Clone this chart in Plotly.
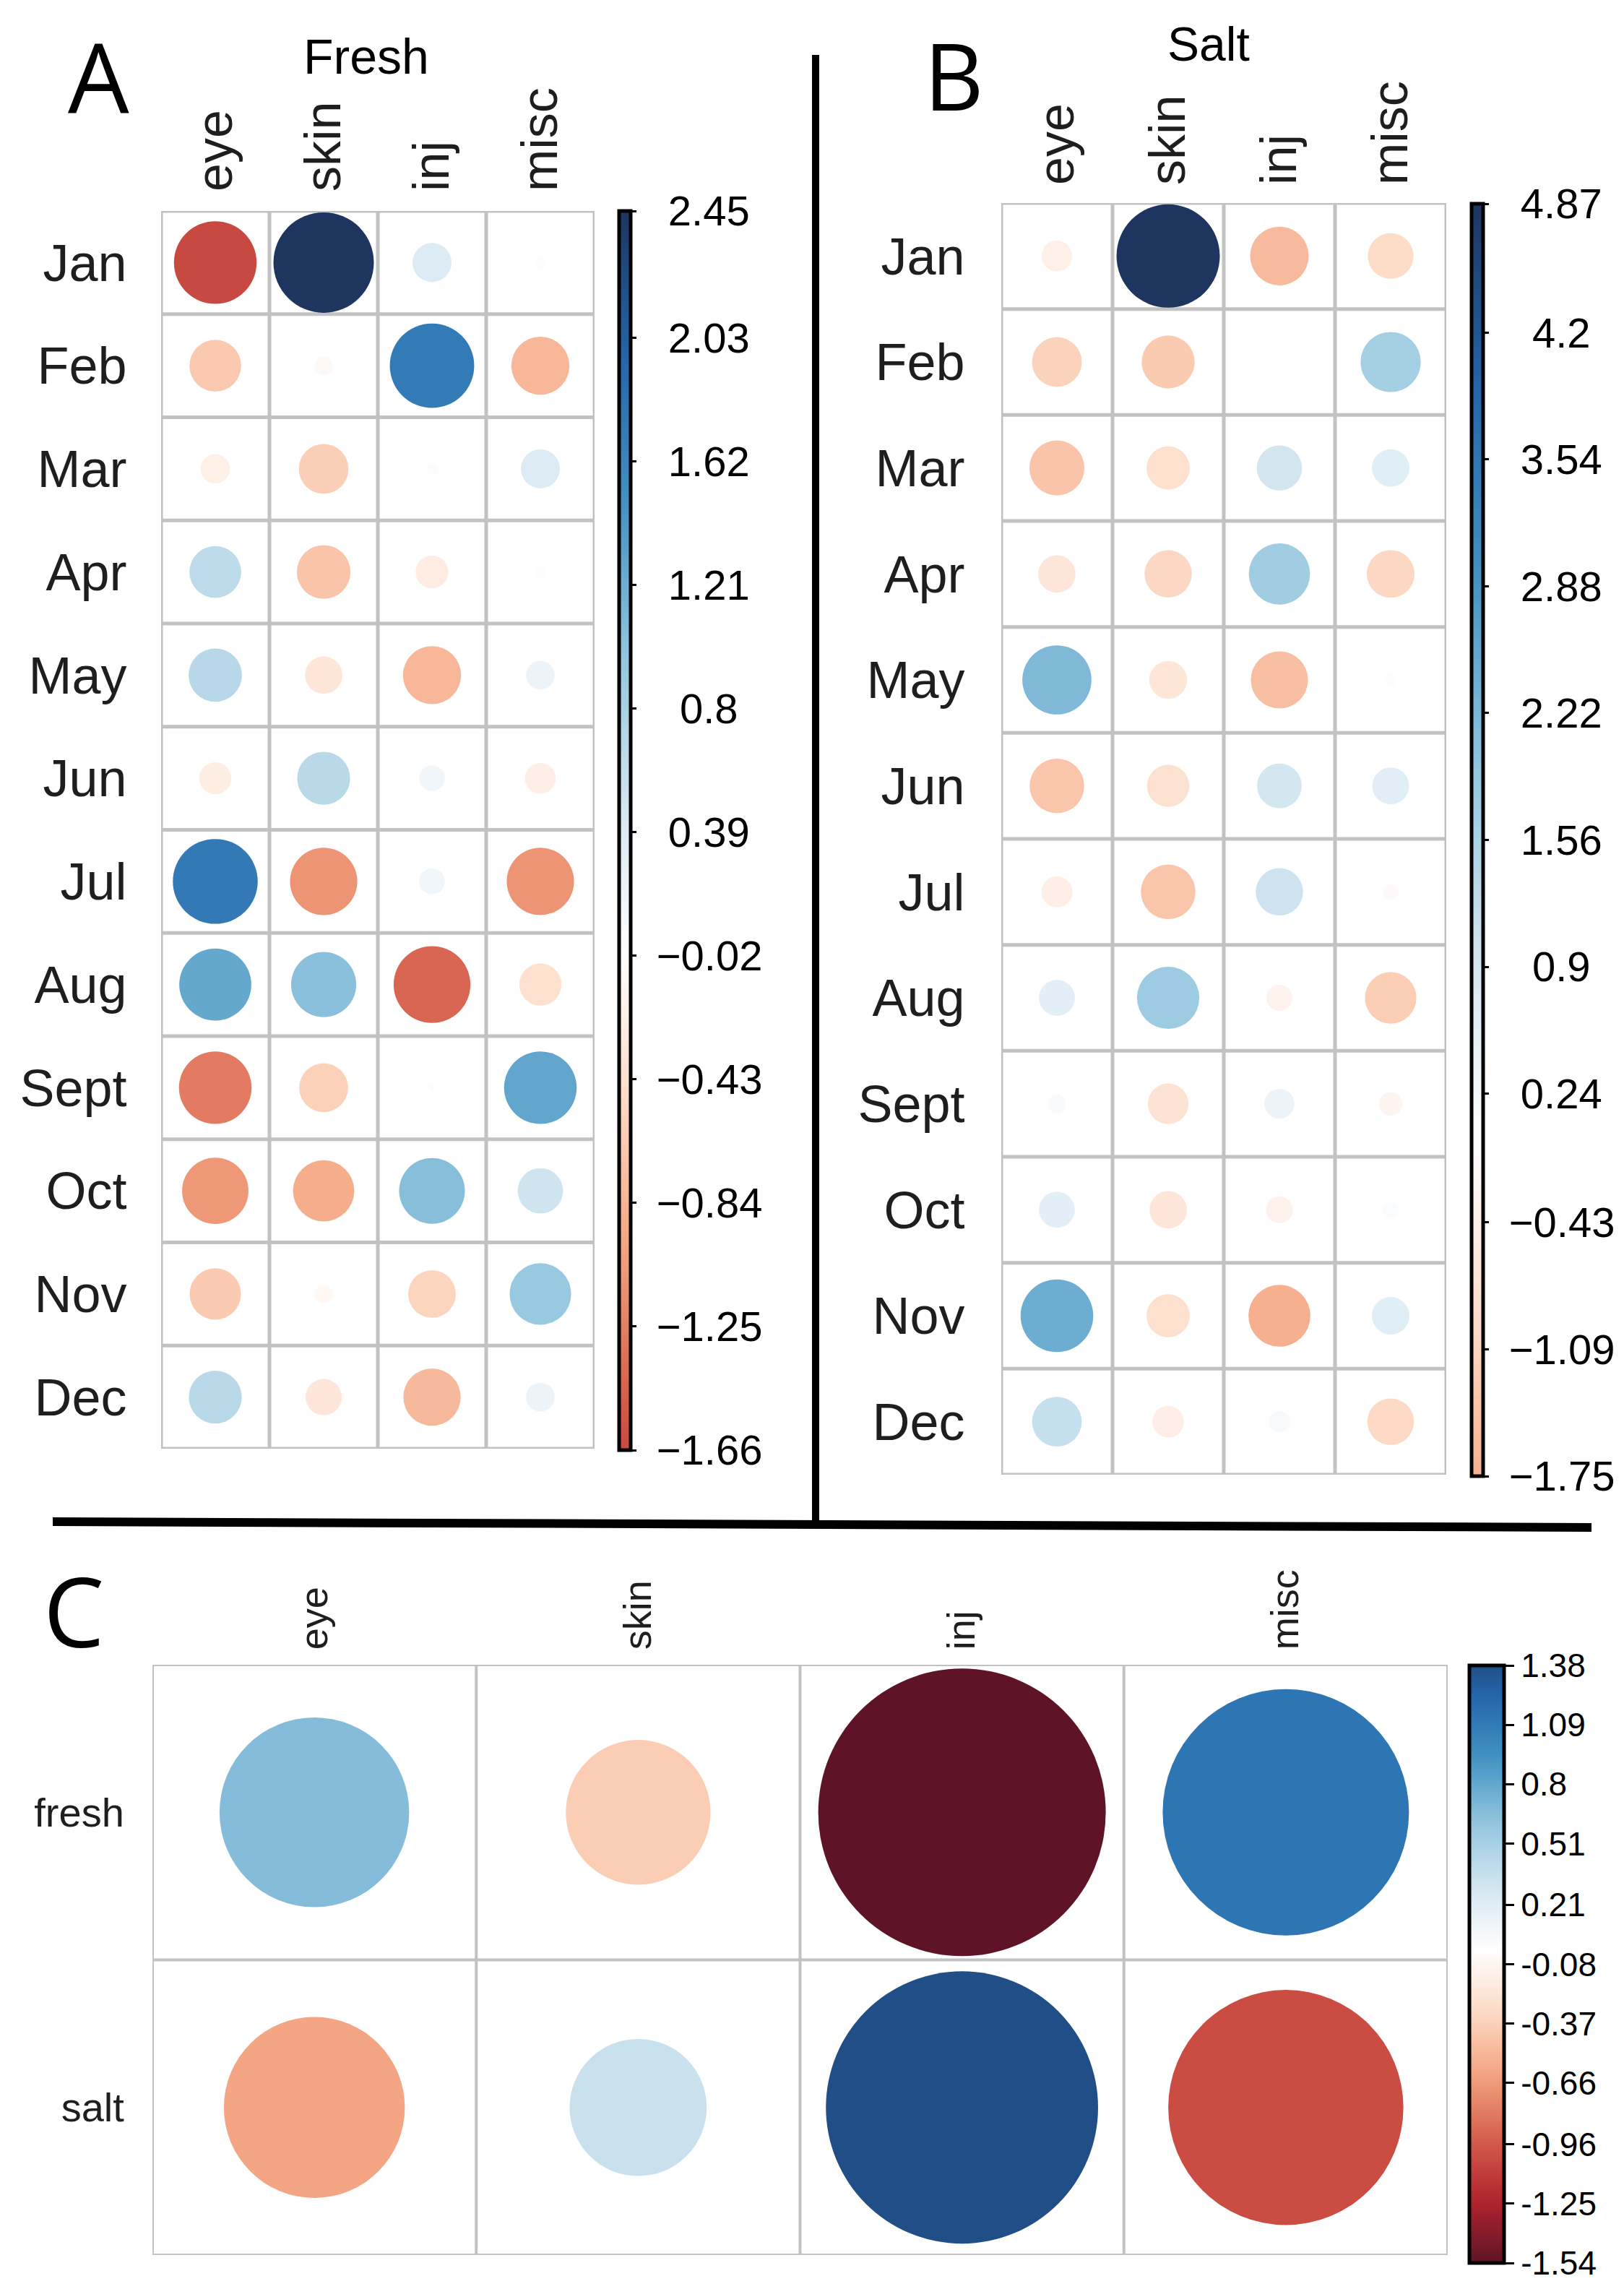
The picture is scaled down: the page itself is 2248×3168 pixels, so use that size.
import plotly.graph_objects as go

W, H = 2248, 3168
FONT = "Liberation Sans, Arial, sans-serif"
LETTER_FONT = "Open Sans, Liberation Sans, sans-serif"

# --- data -------------------------------------------------------------
months = ["Jan", "Feb", "Mar", "Apr", "May", "Jun", "Jul", "Aug", "Sept", "Oct", "Nov", "Dec"]
kinds = ["eye", "skin", "inj", "misc"]
waters = ["fresh", "salt"]

# Panel A: fresh water, by month
fresh_eye = [-1.66, -0.65, -0.21, 0.65, 0.69, -0.25, 1.75, 1.26, -1.28, -1.07, -0.64, 0.68]
fresh_skin = [2.45, -0.08, -0.60, -0.70, -0.34, 0.68, -1.10, 1.03, -0.58, -0.91, -0.08, -0.32]
fresh_inj = [0.37, 1.73, 0.03, -0.26, -0.82, 0.16, 0.16, -1.43, 0.01, 1.05, -0.55, -0.80]
fresh_misc = [0.03, -0.82, 0.37, -0.03, 0.20, -0.23, -1.10, -0.43, 1.28, 0.50, 0.92, 0.20]

# Panel B: salt water, by month
salt_eye = [-0.43, -1.13, -1.38, -0.64, 2.18, -1.36, -0.44, 0.59, 0.15, 0.59, 2.41, 1.13]
salt_skin = [4.87, -1.28, -0.85, -1.02, -0.66, -0.81, -1.36, 1.77, -0.75, -0.64, -0.85, -0.46]
salt_inj = [-1.57, 0.0, 0.93, 1.71, -1.49, 0.91, 1.02, -0.31, 0.41, -0.33, -1.75, 0.20]
salt_misc = [-0.95, 1.65, 0.64, -1.04, 0.08, 0.62, -0.11, -1.21, -0.25, 0.11, 0.64, -0.99]

# Panel C: fresh vs salt totals
water_fresh = [0.67, -0.39, -1.54, 1.13]
water_salt = [-0.61, 0.35, 1.38, -1.03]

# colour bar labels
cbar_a_labels = ["2.45", "2.03", "1.62", "1.21", "0.8", "0.39", "−0.02", "−0.43", "−0.84", "−1.25", "−1.66"]
cbar_b_labels = ["4.87", "4.2", "3.54", "2.88", "2.22", "1.56", "0.9", "0.24", "−0.43", "−1.09", "−1.75"]
cbar_c_labels = ["1.38", "1.09", "0.8", "0.51", "0.21", "-0.08", "-0.37", "-0.66", "-0.96", "-1.25", "-1.54"]

# RdBu anchors (corrplot COL2 style, ends toned to match the figure)
RDBU = ["#5E1426", "#B2242E", "#D6604D", "#F4A582", "#FDDBC7", "#FFFFFF",
        "#D1E5F0", "#92C5DE", "#4393C3", "#2466AA", "#1E3560"]


def rdbu(s):
    s = max(-1.0, min(1.0, s))
    pos = (s + 1) / 2 * (len(RDBU) - 1)
    i = min(int(pos), len(RDBU) - 2)
    f = pos - i
    a = [int(RDBU[i][k:k + 2], 16) for k in (1, 3, 5)]
    b = [int(RDBU[i + 1][k:k + 2], 16) for k in (1, 3, 5)]
    c = [round(a[k] + (b[k] - a[k]) * f) for k in range(3)]
    return "rgb(%d,%d,%d)" % tuple(c)


def part_scale(lo, hi, n=41):
    # slice of the symmetric palette that the bar actually shows
    m = max(abs(lo), abs(hi))
    return [[k / (n - 1), rdbu((lo + k / (n - 1) * (hi - lo)) / m)] for k in range(n)]


def num(label):
    return float(label.replace("−", "-"))


def centred(labels, base=1):
    # pad with no-break spaces so labels sit centred like corrplot's
    w = {"−": 0.584, "-": 0.333, ".": 0.278}
    widths = [sum(w.get(ch, 0.556) for ch in t) for t in labels]
    mx = max(widths)
    return ["\u00a0" * (base + round((mx - wd) / 2 / 0.278)) + t for t, wd in zip(labels, widths)]


def cbar(labels, x_px, top_px, bot_px, thick, size, ticklen, text):
    return dict(
        x=x_px / W, xanchor="left", xpad=0,
        y=1 - top_px / H, yanchor="top", ypad=0,
        len=bot_px - top_px, lenmode="pixels",
        thickness=thick, thicknessmode="pixels",
        outlinewidth=5, outlinecolor="black",
        ticks="outside", ticklen=ticklen, tickwidth=3, tickcolor="black",
        tickvals=[num(t) for t in labels], ticktext=text,
        tickfont=dict(size=size, color="black", family=FONT),
    )


fig = go.Figure()

# --- panel A / B : month x kind ----------------------------------------
panels = [
    ("x", "y", "coloraxis", [fresh_eye, fresh_skin, fresh_inj, fresh_misc], 139),
    ("x2", "y2", "coloraxis2", [salt_eye, salt_skin, salt_inj, salt_misc], 143),
]
for xa, ya, cax, cols, dmax in panels:
    xs, ys, vs = [], [], []
    for kind, col in zip(kinds, cols):
        for month, v in zip(months, col):
            xs.append(kind)
            ys.append(month)
            vs.append(v)
    vmax = max(abs(v) for v in vs)
    fig.add_trace(go.Scatter(
        x=xs, y=ys, xaxis=xa, yaxis=ya, mode="markers",
        marker=dict(symbol="circle", size=[abs(v) for v in vs], sizemode="area",
                    sizeref=2 * vmax / dmax ** 2, color=vs, coloraxis=cax,
                    opacity=1, line=dict(width=0)),
        showlegend=False, hoverinfo="skip",
    ))

# --- panel C : water x kind ---------------------------------------------
xs, ys, vs = [], [], []
for water, row in zip(waters, [water_fresh, water_salt]):
    for kind, v in zip(kinds, row):
        xs.append(kind)
        ys.append(water)
        vs.append(v)
vmax = max(abs(v) for v in vs)
fig.add_trace(go.Scatter(
    x=xs, y=ys, xaxis="x3", yaxis="y3", mode="markers",
    marker=dict(symbol="circle", size=[abs(v) for v in vs], sizemode="area",
                sizeref=2 * vmax / 398 ** 2, color=vs, coloraxis="coloraxis3",
                opacity=1, line=dict(width=0)),
    showlegend=False, hoverinfo="skip",
))


def xax(left, right, anchor, size, ticklen):
    return dict(domain=[left / W, right / W], anchor=anchor, type="category",
                categoryorder="array", categoryarray=kinds, range=[-0.5, 3.5],
                side="top", tickangle=-90, ticks="outside", ticklen=ticklen,
                tickcolor="rgba(0,0,0,0)", tickfont=dict(size=size, color="#1e1e1e", family=FONT),
                showgrid=False, zeroline=False, showline=False, automargin=False, fixedrange=True)


def yax(top, bottom, anchor, cats, size, ticklen):
    return dict(domain=[1 - bottom / H, 1 - top / H], anchor=anchor, type="category",
                categoryorder="array", categoryarray=cats, range=[len(cats) - 0.5, -0.5],
                ticks="outside", ticklen=ticklen, tickcolor="rgba(0,0,0,0)",
                tickfont=dict(size=size, color="#1e1e1e", family=FONT),
                showgrid=False, zeroline=False, showline=False, automargin=False, fixedrange=True)


# grid lines (cell borders)
shapes = []
for xr, yr, nrow, lw in [("x", "y", 12, 5), ("x2", "y2", 12, 5), ("x3", "y3", 2, 4)]:
    for k in range(5):
        shapes.append(dict(type="line", xref=xr, yref=yr, x0=k - 0.5, x1=k - 0.5,
                           y0=-0.5, y1=nrow - 0.5, line=dict(color="#c2c2c2", width=lw), layer="below"))
    for k in range(nrow + 1):
        shapes.append(dict(type="line", xref=xr, yref=yr, x0=-0.5, x1=3.5,
                           y0=k - 0.5, y1=k - 0.5, line=dict(color="#c2c2c2", width=lw), layer="below"))

# panel dividers
shapes.append(dict(type="line", xref="paper", yref="paper", x0=1121 / W, x1=1121 / W,
                   y0=1 - 68 / H, y1=1 - 2104 / H, line=dict(color="black", width=10)))
shapes.append(dict(type="line", xref="paper", yref="paper", x0=65 / W, x1=2195 / W,
                   y0=1 - 2098 / H, y1=1 - 2106 / H, line=dict(color="black", width=12)))


def note(text, x_px, y_px, size, family=FONT):
    return dict(text=text, x=x_px / W, y=1 - y_px / H, xref="paper", yref="paper",
                xanchor="center", yanchor="middle", showarrow=False,
                font=dict(size=size, color="black", family=family))


annotations = [
    note("A", 128, 96, 134, LETTER_FONT),
    note("B", 1312, 96, 128, LETTER_FONT),
    note("C", 94, 2220, 134, LETTER_FONT),
    note("Fresh", 499, 70, 68),
    note("Salt", 1665, 53, 66),
]

fig.update_layout(
    width=W, height=H, template="none",
    margin=dict(l=0, r=0, t=0, b=0),
    paper_bgcolor="white", plot_bgcolor="rgba(0,0,0,0)",
    font=dict(family=FONT, color="black"),
    xaxis=xax(215, 815, "y", 70, 12),
    yaxis=yax(284, 1997, "x", months, 72, 32),
    xaxis2=xax(1378, 1994, "y2", 70, 10),
    yaxis2=yax(273, 2033, "x2", months, 72, 35),
    xaxis3=xax(203, 1996, "y3", 54, 9),
    yaxis3=yax(2296, 3113, "x3", waters, 56, 27),
    coloraxis=dict(cmin=-1.66, cmax=2.45, colorscale=part_scale(-1.66, 2.45),
                   colorbar=cbar(cbar_a_labels, 849, 284, 1999, 16, 58, 6, centred(cbar_a_labels))),
    coloraxis2=dict(cmin=-1.75, cmax=4.87, colorscale=part_scale(-1.75, 4.87),
                    colorbar=cbar(cbar_b_labels, 2029, 274, 2035, 16, 58, 6, centred(cbar_b_labels))),
    coloraxis3=dict(cmin=-1.54, cmax=1.38, colorscale=part_scale(-1.54, 1.38),
                    colorbar=cbar(cbar_c_labels, 2026, 2297, 3124, 48, 46, 12, cbar_c_labels)),
    shapes=shapes,
    annotations=annotations,
)

fig.write_html("out.html")
